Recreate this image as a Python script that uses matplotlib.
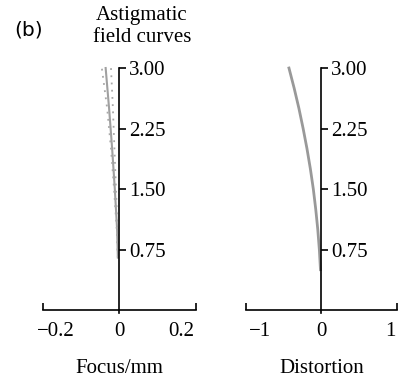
import matplotlib.pyplot as plt

# field curves (focus shift in mm vs field height)
field_h = [0.65, 1.0, 1.5, 2.0, 2.5, 3.0]
tang = [-0.004, -0.006, -0.012, -0.019, -0.027, -0.036]
sag1 = [-0.004, -0.007, -0.014, -0.022, -0.032, -0.046]
sag2 = [-0.004, -0.005, -0.009, -0.013, -0.017, -0.022]

# distortion vs field height
dist_h = [0.5, 0.75, 1.0, 1.25, 1.5, 1.75, 2.0, 2.25, 2.5, 2.75, 3.0]
dist = [-0.012, -0.027, -0.048, -0.075, -0.107, -0.146, -0.191, -0.242, -0.298, -0.361, -0.43]

yticks = [0.75, 1.50, 2.25, 3.00]
serif = 'Liberation Serif'
fs = 15

fig = plt.figure(figsize=(3.98, 3.79), dpi=100)
ax1 = fig.add_axes([0.108, 0.182, 0.384, 0.6385])
ax2 = fig.add_axes([0.618, 0.182, 0.379, 0.6385])


def style(ax, xlim, label_pos, xlabels, xlabel):
    ax.set_xlim(xlim)
    ax.set_ylim(0, 3)
    for s in ['top', 'left']:
        ax.spines[s].set_visible(False)
    ax.spines['right'].set_position(('data', 0))
    ax.spines['right'].set_bounds(-0.04, 3)
    for s in ['right', 'bottom']:
        ax.spines[s].set_linewidth(1.2)
    ax.yaxis.tick_right()
    ax.set_yticks(yticks)
    ax.set_yticklabels(['%.2f' % t for t in yticks], fontfamily=serif, fontsize=fs)
    ax.tick_params(axis='y', direction='out', length=5, width=1.2, pad=2)
    ax.set_xticks([xlim[0], xlim[1]])
    ax.set_xticklabels(['', ''])
    ax.tick_params(axis='x', direction='in', length=5, width=1.2)
    for x, lab in zip(label_pos, xlabels):
        ax.text(x, -0.27, lab, ha='center', va='center', fontfamily=serif, fontsize=fs)
    ax.text(0, -0.72, xlabel, ha='center', va='center', fontfamily=serif, fontsize=fs)
    ax.patch.set_visible(False)


style(ax1, (-0.2, 0.2), [-0.167, 0, 0.162], ['\u22120.2', '0', '0.2'], 'Focus/mm')
style(ax2, (-1, 1), [-0.81, 0, 0.92], ['\u22121', '0', '1'], 'Distortion')

ax1.plot(tang, field_h, color='#a0a0a0', lw=1.5, clip_on=False)
ax1.plot(sag1, field_h, color='#a8a8a8', lw=1.3, ls=(0, (1, 3)), clip_on=False)
ax1.plot(sag2, field_h, color='#a8a8a8', lw=1.3, ls=(0, (1, 3)), clip_on=False)

ax2.plot(dist, dist_h, color='#999999', lw=2, clip_on=False)

fig.text(0.357, 0.96, 'Astigmatic', ha='center', va='center',
         fontfamily=serif, fontsize=fs)
fig.text(0.357, 0.902, 'field curves', ha='center', va='center',
         fontfamily=serif, fontsize=fs)
fig.text(0.036, 0.921, '(b)', ha='left', va='center', fontsize=14.5)

fig.savefig('out.png', dpi=100)
